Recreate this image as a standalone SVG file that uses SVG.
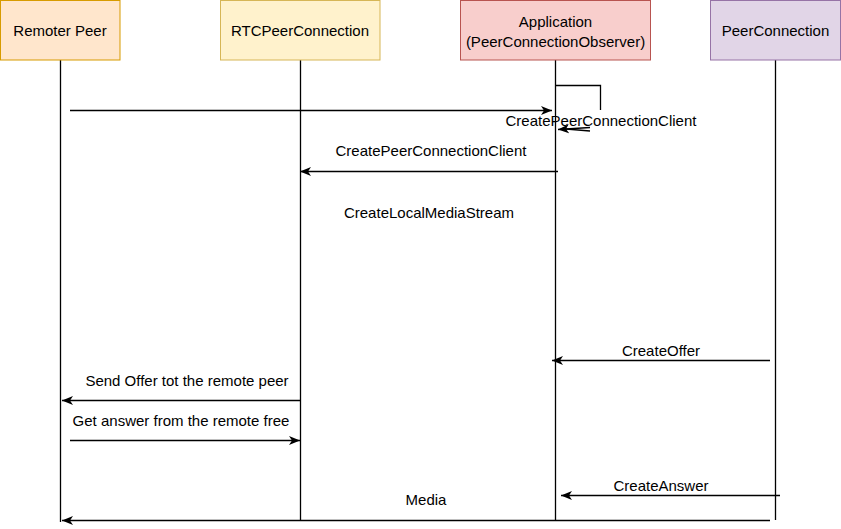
<svg xmlns="http://www.w3.org/2000/svg" width="841" height="529" viewBox="0 0 841 529">
<style>
text{font-family:"Liberation Sans",Arial,Helvetica,sans-serif;font-size:15px;fill:#000;text-anchor:middle}
.life{stroke:#000;stroke-width:1.3;fill:none}
.msg{stroke:#000;stroke-width:1.3;fill:none;marker-end:url(#arr)}
</style>
<defs>
<marker id="arr" markerUnits="userSpaceOnUse" markerWidth="12" markerHeight="10" viewBox="0 0 12 10" refX="11" refY="5" orient="auto">
<path d="M0,0.5 L11,5 L0,9.5 L3,5 Z" fill="#000"/>
</marker>
</defs>
<rect width="841" height="529" fill="#fff"/>
<g id="lifelines">
<line class="life" x1="60.5" y1="60" x2="60.5" y2="522"/>
<line class="life" x1="300.5" y1="60" x2="300.5" y2="520"/>
<line class="life" x1="555.5" y1="60" x2="555.5" y2="520"/>
<line class="life" x1="775.5" y1="60" x2="775.5" y2="520"/>
</g>
<g id="node-remoter-peer">
<rect x="0.5" y="0.5" width="119.5" height="59.5" fill="#ffe6cc" stroke="#d79b00"/>
<text x="60" y="35.5">Remoter Peer</text>
</g>
<g id="node-rtcpeerconnection">
<rect x="220.5" y="0.5" width="159.5" height="59.5" fill="#fff2cc" stroke="#d6b656"/>
<text x="300" y="35.5">RTCPeerConnection</text>
</g>
<g id="node-application">
<rect x="460.5" y="0.5" width="190" height="59.5" fill="#f8cecc" stroke="#b85450"/>
<text x="555.5" y="26.5">Application</text>
<text x="555.5" y="46.5">(PeerConnectionObserver)</text>
</g>
<g id="node-peerconnection">
<rect x="710.5" y="0.5" width="130" height="59.5" fill="#e1d5e7" stroke="#9673a6"/>
<text x="775.5" y="35.5">PeerConnection</text>
</g>
<g id="connectors">
<line class="msg" x1="70" y1="110.5" x2="552" y2="110.5"/>
<polyline class="life" points="556,85.5 600.5,85.5 600.5,110"/>
<path class="msg" d="M590,127.5 L558,129.5"/>
<path class="life" d="M590,131 L566,129"/>
<line class="msg" x1="558" y1="171.5" x2="300" y2="171.5"/>
<line class="msg" x1="770" y1="360.5" x2="552" y2="360.5"/>
<line class="msg" x1="300" y1="400.5" x2="62" y2="400.5"/>
<line class="msg" x1="70" y1="440.5" x2="300" y2="440.5"/>
<line class="msg" x1="780" y1="495.5" x2="561" y2="495.5"/>
<line class="msg" x1="770" y1="520.5" x2="62" y2="520.5"/>
</g>
<g id="labels">
<text x="601" y="126">CreatePeerConnectionClient</text>
<text x="431" y="156">CreatePeerConnectionClient</text>
<text x="429" y="218">CreateLocalMediaStream</text>
<text x="661" y="356">CreateOffer</text>
<text x="187" y="386">Send Offer tot the remote peer</text>
<text x="181" y="426">Get answer from the remote free</text>
<text x="661" y="491">CreateAnswer</text>
<text x="426" y="505">Media</text>
</g>
</svg>
